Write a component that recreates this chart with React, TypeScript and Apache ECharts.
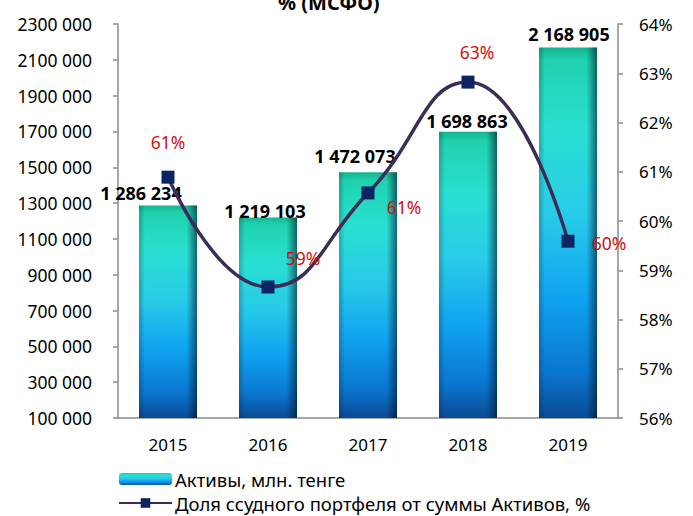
import React, { useEffect, useRef } from "react";
import * as echarts from "echarts";

const categories = ["2015", "2016", "2017", "2018", "2019"];
const assets = [1286234, 1219103, 1472073, 1698863, 2168905];
const loanShare = [60.89, 58.66, 60.57, 62.82, 59.59];
const leftTicks = [100000, 300000, 500000, 700000, 900000, 1100000, 1300000, 1500000, 1700000, 1900000, 2100000, 2300000];
const assetLabelOffsets = [[-27, 0], [-3, 6], [-13, -3], [-1, 2], [1, 0]];
const shareLabelOffsets = [[0, -35], [35, -29], [36, 14], [9, -30], [41, 2]];

const seriesNames = ["Активы, млн. тенге", "Доля ссудного портфеля от суммы Активов, %"];

function fmtThousands(v: number): string {
  return String(v).replace(/\B(?=(\d{3})+(?!\d))/g, " ");
}
function fmtAxis(v: number): string {
  const s = String(v);
  if (s.length <= 3) return s;
  return s.slice(0, s.length - 3) + " " + s.slice(s.length - 3);
}

const FONT = "'Noto Sans', 'DejaVu Sans', sans-serif";

export default function App() {
  const ref = useRef<HTMLDivElement>(null);
  useEffect(() => {
    if (!ref.current) return;
    const chart = echarts.init(ref.current, null, { renderer: "svg" });
    const barGradient = new echarts.graphic.LinearGradient(0, 0, 0, 1, [
      { offset: 0, color: "#14b48e" },
      { offset: 0.035, color: "#20d2b0" },
      { offset: 0.22, color: "#2adfd2" },
      { offset: 0.45, color: "#28cbe8" },
      { offset: 0.68, color: "#10a2f0" },
      { offset: 0.88, color: "#0a76cf" },
      { offset: 1, color: "#0a4a94" },
    ]);
    const shadeGradient = new echarts.graphic.LinearGradient(0, 0, 1, 0, [
      { offset: 0, color: "rgba(0,20,40,0.25)" },
      { offset: 0.1, color: "rgba(0,20,40,0)" },
      { offset: 0.82, color: "rgba(0,20,40,0)" },
      { offset: 1, color: "rgba(0,20,40,0.6)" },
    ]);
    chart.setOption({
      animation: false,
      backgroundColor: "#ffffff",
      graphic: [
        {
          type: "text",
          left: 278,
          top: -8,
          style: {
            text: "% (МСФО)",
            x: 0,
            fill: "#000",
            font: "bold 20px " + FONT,
            textAlign: "center",
          },
        },
      ],
      legend: {
        orient: "vertical",
        left: 118,
        top: 469,
        padding: 0,
        itemWidth: 53,
        itemHeight: 12,
        itemGap: 4,
        data: seriesNames,
        textStyle: { fontFamily: FONT, fontSize: 18.5, lineHeight: 20, color: "#000", padding: [0, 0, 0, -2] },
      },
      grid: { left: 118, right: 75, top: 24, bottom: 98 },
      xAxis: {
        type: "category",
        data: categories,
        axisLine: { lineStyle: { color: "#8c8c8c", width: 1.5 } },
        axisTick: { show: false },
        axisLabel: { color: "#000", fontSize: 17, fontFamily: FONT, margin: 18 },
      },
      yAxis: [
        {
          type: "value",
          min: 100000,
          max: 2300000,
          splitLine: { show: false },
          axisLine: { show: true, lineStyle: { color: "#8c8c8c", width: 1.5 } },
          axisTick: { show: true, length: 5, customValues: leftTicks, lineStyle: { color: "#8c8c8c", width: 1.5 } },
          axisLabel: {
            customValues: leftTicks,
            color: "#000",
            fontSize: 17.5,
            fontFamily: FONT,
            margin: 26,
            formatter: (v: number) => fmtAxis(v),
          },
        },
        {
          type: "value",
          min: 56,
          max: 64,
          interval: 1,
          position: "right",
          splitLine: { show: false },
          axisLine: { show: true, lineStyle: { color: "#8c8c8c", width: 1.5 } },
          axisTick: { show: true, length: 5, lineStyle: { color: "#8c8c8c", width: 1.5 } },
          axisLabel: { color: "#000", fontSize: 17, fontFamily: FONT, margin: 21, formatter: "{value}%" },
        },
      ],
      series: [
        {
          name: seriesNames[0],
          type: "bar",
          data: assets,
          barWidth: 58,
          itemStyle: { color: barGradient },
        },
        {
          name: "shade",
          type: "bar",
          data: assets.map((v, i) => ({
            value: v,
            label: { offset: assetLabelOffsets[i] },
          })),
          barWidth: 58,
          barGap: "-100%",
          silent: true,
          itemStyle: { color: shadeGradient },
          label: {
            show: true,
            position: "top",
            distance: 4,
            color: "#000",
            fontWeight: "bold",
            fontSize: 18,
            fontFamily: FONT,
            formatter: (p: any) => fmtThousands(p.value),
          },
        },
        {
          name: seriesNames[1],
          type: "line",
          yAxisIndex: 1,
          smooth: 0.5,
          data: loanShare.map((v, i) => ({
            value: v,
            label: { offset: shareLabelOffsets[i] },
          })),
          symbol: "rect",
          symbolSize: 13,
          lineStyle: { color: "#3b2d57", width: 3.5 },
          itemStyle: { color: "#0d2462" },
          label: {
            show: true,
            position: "inside",
            color: "#d01010",
            fontSize: 17.5,
            fontFamily: FONT,
            formatter: (p: any) => Math.round(p.value) + "%",
          },
        },
      ],
    });
    return () => chart.dispose();
  }, []);
  return <div ref={ref} style={{ width: 693, height: 516, position: "absolute", left: 0, top: 0 }} />;
}
